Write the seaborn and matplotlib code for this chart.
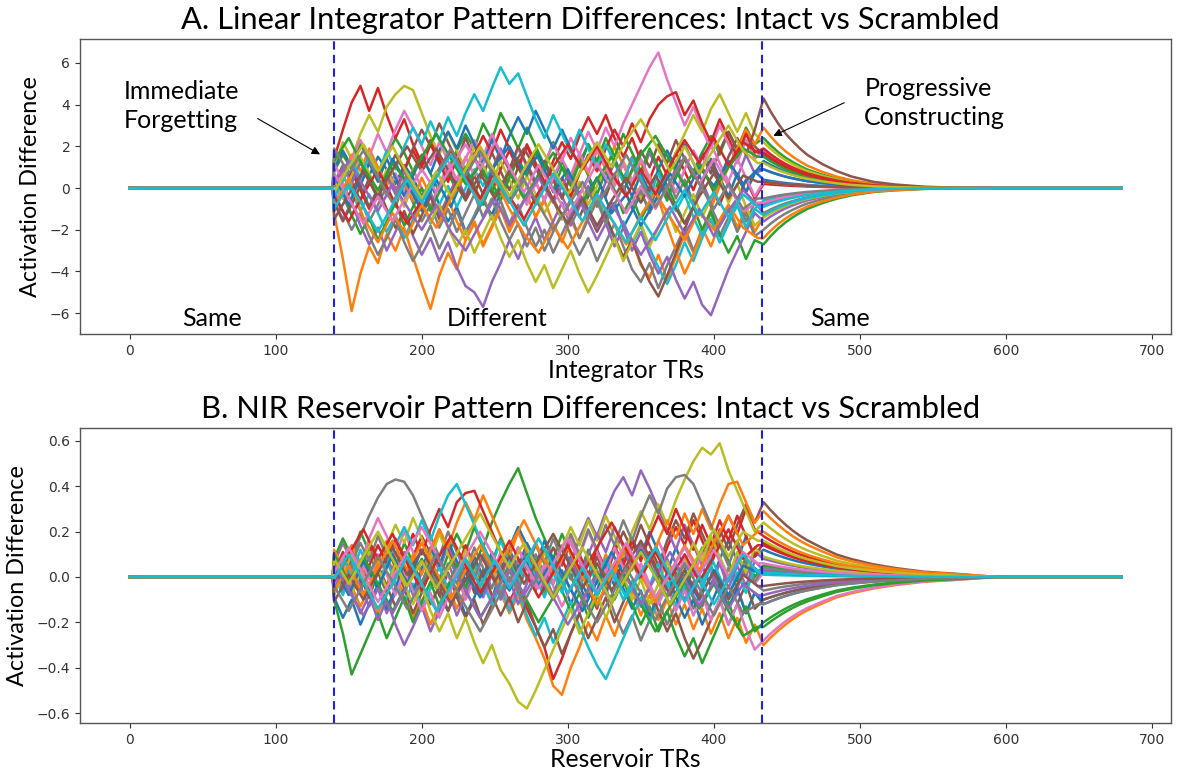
import numpy as np
import pandas as pd
import matplotlib
matplotlib.use("Agg")
import matplotlib.pyplot as plt
import seaborn as sns

# ---------------- data (read/estimated from the reference) ----------------
total_trs = 680                      # TRs 0..679
diff_start, diff_end = 140, 433      # "Different" segment boundaries (dashed lines)
knot_trs = [140 + 6 * k for k in range(50)]     # sampled TRs, densely traced units
knot_trs_2 = [140 + 10 * k for k in range(30)]  # sampled TRs, coarsely traced units
decay_start = 434

# fraction of the last value left after the boundary (read from the fan envelope)
decay_offsets_a = [0, 5, 10, 15, 20, 25, 30, 40, 50, 60, 75, 90, 110, 130, 160]
decay_frac_a = [1, 0.85, 0.72, 0.61, 0.52, 0.44, 0.37, 0.27, 0.19, 0.13, 0.07, 0.04, 0.015, 0.005, 0]
decay_offsets_b = [0, 5, 10, 15, 20, 25, 30, 40, 50, 60, 75, 90, 110, 130, 160]
decay_frac_b = [1, 0.89, 0.79, 0.70, 0.62, 0.55, 0.49, 0.39, 0.30, 0.24, 0.17, 0.12, 0.07, 0.045, 0]

integrator_a = [
    [0.3, -0.5, 0.4, 1.2, 0.6, 1.5, 0.9, 0.2, 1.1, 0.5, -0.4, 0.3, -0.8, -1.6, -0.9, -2.1, -1.4, -0.6, -1.3, -0.2,
     0.7, 0.1, 1.0, 1.8, 1.1, 0.4, 1.3, 0.6, -0.3, 0.5, -0.6, -1.4, -0.7, -1.9, -1.1, -0.3, -1.0, 0.2, -0.5, 0.6,
     1.4, 0.8, 1.7, 1.0, 0.3, 1.2, 0.5, -0.2, 0.7, 1.3],
    [-1.2, -3.4, -5.9, -4.1, -2.8, -3.6, -2.2, -3.0, -1.9, -3.3, -4.6, -5.8, -4.2, -3.1, -3.9, -2.5, -1.6, -2.7, -1.8, -0.9,
     -2.0, -1.1, -0.3, -1.4, -0.6, -1.7, -2.6, -1.5, -2.4, -1.3, -0.4, -1.5, -2.3, -3.4, -2.5, -3.7, -4.3, -3.2, -4.4, -3.3,
     -2.2, -3.1, -1.9, -2.8, -1.7, -0.8, -1.9, -1.0, -2.1, -1.4],
    [0.8, 1.6, 0.9, 2.1, 1.4, 0.6, 1.5, 2.4, 1.7, 0.8, 1.6, 0.7, -0.2, 0.9, 1.8, 2.6, 1.9, 3.1, 2.3, 3.6,
     2.8, 1.9, 2.9, 2.0, 1.1, 2.2, 1.3, 0.4, 1.5, 0.6, -0.3, 0.8, -0.1, -1.2, -0.4, -1.5, -0.7, 0.3, -0.6, 0.5,
     1.4, 0.6, 1.7, 2.5, 1.6, 2.7, 1.8, 2.9, 2.1, 2.4],
    [1.4, 2.8, 4.1, 4.9, 3.7, 4.8, 3.5, 2.4, 3.3, 2.1, 1.2, 2.3, 1.4, 0.5, 1.6, 0.7, -0.3, 0.8, -0.2, 0.9,
     1.8, 0.9, 2.0, 1.1, 0.2, 1.3, 2.2, 1.4, 2.5, 3.4, 2.6, 3.5, 2.4, 1.5, 2.4, 1.3, 0.4, 1.5, 0.6, 1.7,
     0.8, -0.1, 1.0, 0.1, -0.8, 0.3, -0.6, 0.4, -0.5, 0.2],
    [-0.6, -1.5, -0.7, -1.8, -2.7, -1.9, -3.0, -2.1, -1.2, -2.3, -3.2, -2.4, -3.5, -2.6, -3.8, -4.7, -5.0, -5.7, -4.5, -3.6,
     -2.5, -3.4, -2.3, -1.4, -2.5, -1.6, -0.7, -1.8, -0.9, 0.1, -0.8, 0.3, 1.2, 0.4, 1.5, 0.6, 1.7, 0.8, -0.1, 1.0,
     0.1, -0.8, 0.3, -0.7, 0.4, 1.3, 0.5, 1.6, 0.7, 0.9],
    [0.2, 1.1, 0.3, -0.6, 0.5, -0.4, 0.7, 1.6, 0.8, 1.9, 2.8, 2.0, 3.1, 2.2, 1.3, 2.4, 1.5, 0.6, 1.7, 0.8,
     -0.1, 1.0, 0.1, -0.8, 0.3, -0.6, -1.5, -0.5, -1.4, -0.4, 0.5, -0.4, 0.7, -0.2, 0.9, 1.8, 1.0, 2.1, 1.2, 2.3,
     1.4, 0.5, 1.6, 0.7, 1.8, 2.7, 1.9, 2.8, 2.0, 1.6],
    [-0.9, 0.2, -0.7, 0.4, 1.3, 0.5, -0.4, 0.7, -0.2, 0.9, 0.0, -0.9, 0.2, 1.1, 0.3, 1.4, 2.3, 1.5, 2.6, 1.7,
     0.8, 1.9, 1.0, 0.1, 1.2, 2.1, 1.3, 2.4, 1.6, 2.7, 1.8, 2.9, 2.0, 3.1, 4.0, 4.9, 5.8, 6.5, 5.2, 4.1,
     3.0, 3.9, 2.8, 1.9, 3.0, 2.1, 1.2, 2.3, 1.4, 1.8],
    [0.5, -0.4, -1.3, -0.5, -1.6, -0.8, 0.1, -0.9, 0.2, -0.7, -1.6, -0.8, -1.9, -1.0, -2.1, -1.2, -0.3, -1.4, -0.5, -1.6,
     -2.5, -1.7, -2.8, -1.9, -3.0, -2.1, -1.2, -2.3, -3.2, -2.4, -3.5, -2.6, -1.7, -2.8, -3.9, -4.5, -3.6, -4.8, -3.7, -2.8,
     -1.9, -3.0, -2.1, -1.2, -2.3, -1.4, -0.5, -1.6, -0.7, -1.2],
    [1.0, 2.2, 1.4, 2.6, 3.5, 2.7, 3.9, 4.5, 4.9, 4.7, 3.6, 2.5, 1.6, 2.7, 1.8, 0.9, 2.0, 1.1, 0.2, 1.3,
     0.4, -0.5, 0.6, -0.3, -1.2, -0.4, -1.5, -0.6, 0.3, -0.8, 0.1, 1.0, 0.2, 1.3, 0.4, -0.5, 0.6, -0.3, 0.8, 1.7,
     2.6, 3.5, 2.7, 3.8, 4.5, 3.6, 2.7, 3.6, 2.6, 2.2],
    [-0.3, 0.6, -0.2, -1.1, -0.3, -1.2, -2.1, -1.3, -2.4, -1.5, -0.6, -1.7, -0.8, 0.1, -0.9, 0.0, 0.9, 0.1, 1.0, 0.2,
     -0.7, 0.3, -0.6, 0.4, 1.3, 0.5, -0.4, 0.6, -0.3, -1.2, -0.4, -1.5, -2.4, -1.6, -2.7, -1.8, -2.9, -3.8, -4.6, -3.7,
     -2.6, -3.5, -2.4, -1.5, -2.6, -1.7, -0.8, -1.9, -1.0, -0.6],
    [0.9, 1.8, 1.0, 0.1, 1.2, 0.3, 1.4, 0.5, -0.4, 0.6, 1.5, 0.7, 1.8, 2.7, 1.9, 3.0, 2.1, 1.2, 2.3, 1.4,
     2.5, 3.4, 2.6, 3.7, 2.8, 1.9, 2.8, 1.9, 1.0, 2.1, 1.2, 0.3, 1.4, 0.5, -0.4, 0.7, -0.2, 0.9, 1.8, 1.0,
     2.1, 1.2, 0.3, 1.4, 0.5, -0.4, 0.7, -0.2, 0.8, 0.4],
    [-0.4, 0.7, 1.6, 0.8, 1.9, 1.0, 0.1, 1.2, 0.3, -0.6, 0.5, -0.4, -1.3, -0.5, -1.6, -2.5, -1.7, -2.8, -1.9, -1.0,
     -2.1, -1.2, -0.3, -1.4, -0.5, 0.4, -0.5, 0.6, 1.5, 0.7, 1.8, 0.9, 2.0, 1.1, 0.2, 1.3, 0.4, -0.5, -1.8, -3.0,
     -4.1, -3.2, -2.1, -1.0, 0.1, 1.0, 1.9, 2.8, 2.1, 2.9],
    [-1.1, -0.2, -1.3, -2.2, -1.4, -2.5, -1.6, -0.7, -1.8, -0.9, 0.0, -1.1, -0.2, 0.7, -0.1, 1.0, 0.1, -0.8, 0.3, -0.6,
     0.5, 1.4, 0.6, 1.7, 0.8, -0.1, 1.0, 0.1, 1.2, 2.1, 1.3, 2.4, 1.5, 2.6, 1.7, 0.8, 1.9, 1.0, 0.1, -0.8,
     -1.7, -0.9, -2.0, -1.1, -2.2, -3.1, -2.3, -3.4, -2.5, -2.7],
    [0.6, -0.3, 0.8, -0.1, -1.0, -0.2, 0.7, -0.2, 0.9, 1.8, 1.0, 2.1, 1.2, 0.3, 1.4, 0.5, 1.6, 2.5, 1.7, 2.8,
     1.9, 1.0, 2.1, 1.2, 0.3, -0.6, 0.5, -0.4, 0.7, 1.6, 0.8, 1.9, 2.8, 2.0, 3.1, 2.2, 3.3, 4.0, 4.4, 4.6,
     3.5, 4.2, 3.1, 2.2, 3.3, 2.4, 1.5, 2.6, 1.7, 1.9],
    [0.1, 1.0, 0.2, 1.3, 0.4, -0.5, 0.6, -0.3, 0.8, -0.1, -1.0, -0.2, -1.3, -0.4, 0.5, -0.4, 0.7, 1.6, 0.8, 1.9,
     1.0, 0.1, 1.2, 0.3, -0.6, 0.5, -0.4, -1.3, -0.5, -1.6, -2.5, -1.7, -2.8, -1.9, -3.0, -2.1, -3.2, -4.1, -3.3, -4.4,
     -5.3, -4.5, -5.6, -6.1, -5.0, -3.9, -3.0, -2.1, -1.2, -1.6],
    [-0.7, -1.6, -0.8, 0.1, -0.9, 0.0, -1.0, -1.9, -1.1, -2.2, -1.3, -0.4, -1.5, -0.6, 0.3, -0.5, 0.6, -0.3, 0.8, 1.7,
     0.9, 2.0, 1.1, 0.2, 1.3, 0.4, -0.5, 0.6, -0.3, -1.2, -2.1, -1.3, -2.4, -3.3, -2.5, -3.6, -4.5, -5.2, -4.2, -3.1,
     -2.0, -0.9, 0.2, 1.3, 0.4, 1.5, 2.4, 1.6, 2.8, 4.3],
    [1.2, 0.3, 1.4, 2.3, 1.5, 2.6, 1.7, 2.8, 3.7, 2.9, 2.0, 1.1, 2.2, 1.3, 0.4, 1.5, 0.6, 1.7, 0.8, -0.1,
     1.0, 0.1, -0.8, 0.3, -0.6, 0.5, 1.4, 0.6, 1.7, 0.8, 1.9, 1.0, 0.1, 1.2, 0.3, 1.4, 0.5, -0.4, 0.7, -0.2,
     0.9, 1.8, 1.0, 2.1, 1.2, 0.3, 1.4, 0.5, -0.4, 0.3],
    [-0.2, -1.1, -2.0, -1.2, -2.3, -3.2, -2.4, -1.5, -2.6, -3.5, -2.7, -1.8, -2.9, -2.0, -1.1, -2.2, -1.3, -0.4, -1.5, -0.6,
     -1.7, -0.8, -1.9, -2.8, -2.0, -3.1, -2.2, -1.3, -2.4, -1.5, -0.6, -1.7, -0.8, 0.1, -1.0, -0.1, -1.2, -0.3, 0.6, -0.5,
     0.4, -0.7, 0.2, -0.9, -1.8, -1.0, -2.1, -1.2, -2.3, -2.0],
    [0.4, -0.5, 0.6, 1.5, 0.7, -0.2, 0.9, 0.0, -0.9, 0.2, -0.7, -1.6, -0.8, -1.9, -2.8, -2.0, -3.1, -2.2, -1.3, -2.4,
     -3.3, -2.5, -3.6, -4.5, -3.7, -4.8, -3.9, -3.0, -4.1, -5.0, -4.2, -3.3, -2.4, -3.5, -2.6, -1.7, -2.8, -1.9, -1.0, -2.1,
     -1.2, -0.3, -1.4, -0.5, 0.4, -0.7, 0.2, -0.9, -1.8, -1.4],
    [-0.5, 0.4, 1.3, 0.5, 1.6, 0.7, 1.8, 0.9, 2.0, 2.9, 2.1, 3.2, 2.3, 3.4, 2.5, 3.6, 4.5, 3.7, 4.8, 5.8,
     5.0, 5.5, 4.4, 3.3, 2.4, 3.5, 2.6, 1.7, 2.8, 1.9, 1.0, 2.1, 1.2, 0.3, 1.4, 0.5, -0.4, 0.7, -0.2, -1.1,
     -0.3, -1.4, -2.3, -1.5, -2.6, -1.7, -0.8, -1.9, -1.0, -1.3],
]

integrator_a_coarse = [
    [0.6, -0.8, 0.9, -0.5, 1.4, 0.2, -1.1, 0.4, -0.9, 0.8, -0.6, 1.1, 2.0, 0.7, 1.6, -0.2, 0.9, -0.7, 0.5, -1.2,
     -0.3, -1.8, -0.6, 0.7, -0.4, 1.0, 0.1, 1.3, 0.2, 0.9],
    [-0.9, 0.5, -1.4, -2.6, -1.2, -2.3, -0.8, -1.9, -0.5, 0.6, -0.7, 0.4, -1.0, -2.2, -3.1, -1.8, -2.9, -1.6, -0.4, -1.5,
     -2.7, -1.3, -0.2, -1.4, -2.5, -1.1, -2.0, -0.8, -1.9, -2.4],
    [1.3, 2.4, 1.0, -0.1, 1.2, 0.3, 1.5, 2.6, 1.4, 0.2, 1.1, -0.3, 0.8, -0.5, 0.6, 1.7, 0.5, -0.7, 0.4, 1.5,
     0.3, 1.6, 2.5, 1.3, 0.1, 1.2, -0.1, 1.0, 1.9, 1.5],
    [-0.4, -1.6, -0.3, 0.9, -0.5, -1.7, -0.6, 0.7, 1.8, 0.6, -0.5, 0.8, -0.4, -1.5, -0.2, 1.0, 2.1, 0.9, 2.0, 0.7,
     -0.4, 0.9, -0.3, 1.1, 2.3, 1.2, 2.4, 1.1, 2.2, 1.7],
    [0.2, 1.3, 0.1, -1.1, 0.2, -0.9, -2.0, -0.8, -2.1, -3.0, -1.7, -0.5, -1.8, -0.6, 0.5, -0.7, 0.6, -0.6, -1.9, -0.7,
     -2.0, -3.2, -2.1, -0.9, -2.2, -1.0, -2.3, -1.1, -0.1, -0.8],
    [-1.5, -0.3, 0.8, -0.4, 0.9, 2.0, 0.8, 1.9, 0.6, -0.6, 0.7, -0.5, 0.8, 1.9, 0.7, -0.6, -1.7, -0.5, -1.8, -0.6,
     0.5, -0.7, 0.6, -0.5, -1.7, -0.4, 0.7, -0.5, 0.6, 0.3],
    [0.7, -0.5, -1.7, -0.4, -1.6, -0.3, 0.9, -0.2, 1.0, 2.1, 0.9, 2.2, 1.0, -0.2, 1.1, -0.1, -1.3, -0.1, 1.2, 0.0,
     -1.2, 0.1, -1.0, 0.3, 1.5, 0.2, 1.4, 0.1, -1.1, -0.7],
    [1.9, 0.7, 1.8, 0.5, -0.7, 0.6, -0.6, 0.7, 1.9, 0.6, 1.8, 0.5, -0.7, 0.4, -0.8, -2.0, -0.9, 0.3, -0.9, 0.4,
     1.6, 0.3, -0.9, 0.3, 1.5, 0.2, -1.0, 0.2, -1.0, -0.5],
    [-0.2, 1.0, 2.1, 0.8, 2.0, 0.7, -0.5, 0.8, -0.4, 0.9, 2.0, 0.8, -0.4, 0.9, 2.1, 0.9, -0.3, 1.0, 2.2, 1.0,
     2.3, 3.3, 2.1, 0.8, 2.0, 0.7, 1.9, 3.0, 1.8, 1.2],
    [-1.0, 0.2, -0.9, -2.1, -0.8, 0.4, -0.7, 0.5, 1.6, 0.4, -0.8, 0.5, -0.6, -1.8, -0.5, 0.7, -0.4, -1.6, -0.3, -1.5,
     -2.6, -1.4, -2.5, -1.2, -0.1, -1.3, -0.2, -1.4, -0.3, -0.9],
]

reservoir_b = [
    [0.05, -0.06, 0.08, -0.03, 0.10, 0.02, 0.14, 0.06, -0.04, 0.07, -0.05, 0.04, -0.08, -0.15, -0.06, -0.17, -0.09, 0.01, -0.10, 0.03,
     0.12, 0.04, 0.15, 0.07, -0.02, 0.09, -0.01, -0.12, -0.03, -0.14, -0.06, 0.05, -0.04, 0.08, 0.17, 0.09, 0.20, 0.11, 0.02, 0.13,
     0.04, -0.07, 0.05, -0.04, 0.08, 0.16, 0.07, 0.18, 0.09, 0.12],
    [-0.02, 0.07, -0.04, -0.13, -0.05, -0.16, -0.08, 0.02, -0.09, -0.18, -0.10, -0.21, -0.12, -0.03, -0.14, -0.05, 0.05, -0.06, 0.04, -0.07,
     -0.16, -0.08, -0.19, -0.27, -0.36, -0.48, -0.52, -0.40, -0.31, -0.20, -0.28, -0.17, -0.26, -0.15, -0.06, -0.17, -0.08, -0.19, -0.10, -0.21,
     -0.12, -0.23, -0.14, -0.25, -0.16, -0.27, -0.18, -0.29, -0.21, -0.30],
    [0.08, 0.17, 0.09, 0.20, 0.11, 0.02, 0.13, 0.04, 0.15, 0.06, -0.03, 0.08, -0.01, 0.10, 0.19, 0.11, 0.22, 0.13, 0.24, 0.33,
     0.41, 0.48, 0.37, 0.26, 0.17, 0.08, 0.19, 0.10, 0.01, 0.12, 0.03, -0.06, 0.05, -0.04, 0.07, -0.02, 0.09, 0.00, -0.09, 0.02,
     -0.07, 0.04, 0.13, 0.05, 0.16, 0.07, -0.02, 0.09, 0.00, 0.05],
    [-0.07, 0.02, 0.11, 0.03, 0.14, 0.05, -0.04, 0.07, -0.02, 0.09, 0.18, 0.10, 0.21, 0.12, 0.03, 0.14, 0.05, -0.04, 0.07, -0.02,
     -0.11, -0.03, -0.14, -0.22, -0.31, -0.45, -0.36, -0.25, -0.16, -0.05, -0.14, -0.03, 0.06, -0.02, 0.09, 0.00, 0.11, 0.02, 0.13, 0.22,
     0.14, 0.25, 0.16, 0.07, 0.18, 0.27, 0.19, 0.30, 0.21, 0.18],
    [0.03, -0.06, 0.05, -0.04, -0.13, -0.05, -0.16, -0.07, 0.03, -0.08, 0.02, 0.11, 0.03, 0.14, 0.05, -0.04, 0.07, -0.02, 0.09, 0.00,
     0.10, 0.01, 0.12, 0.03, -0.06, 0.05, 0.14, 0.06, 0.17, 0.26, 0.18, 0.29, 0.38, 0.44, 0.36, 0.47, 0.39, 0.30, 0.21, 0.12,
     0.23, 0.14, 0.05, 0.16, 0.07, -0.02, 0.09, 0.00, 0.11, 0.08],
    [0.10, 0.01, -0.08, 0.03, -0.06, 0.05, -0.04, -0.13, -0.05, -0.16, -0.07, 0.03, -0.08, 0.02, -0.09, -0.18, -0.10, -0.21, -0.12, -0.03,
     -0.14, -0.05, 0.05, -0.06, 0.04, 0.13, 0.05, 0.16, 0.07, -0.02, 0.09, 0.00, 0.11, 0.20, 0.12, 0.23, 0.14, 0.05, 0.16, 0.25,
     0.17, 0.28, 0.19, 0.10, 0.21, 0.12, 0.23, 0.32, 0.24, 0.33],
    [-0.04, 0.05, 0.14, 0.06, 0.17, 0.26, 0.18, 0.09, 0.20, 0.11, 0.02, 0.13, 0.04, -0.05, 0.06, -0.03, 0.08, -0.01, -0.10, -0.02,
     -0.13, -0.04, 0.06, -0.05, 0.05, -0.04, -0.13, -0.05, -0.16, -0.07, 0.03, -0.08, 0.02, 0.11, 0.03, 0.14, 0.05, 0.16, 0.07, -0.02,
     0.09, 0.00, 0.11, 0.02, -0.07, 0.04, -0.05, 0.06, -0.03, 0.02],
    [0.06, 0.15, 0.07, 0.18, 0.27, 0.35, 0.41, 0.43, 0.42, 0.36, 0.27, 0.18, 0.09, 0.20, 0.11, 0.02, 0.13, 0.04, -0.05, 0.06,
     -0.03, 0.08, -0.01, 0.10, 0.01, -0.08, 0.03, -0.06, 0.05, -0.04, -0.13, -0.05, -0.16, -0.25, -0.17, -0.28, -0.19, -0.10, -0.21, -0.12,
     -0.03, -0.14, -0.05, 0.05, -0.06, 0.04, -0.05, 0.06, -0.03, -0.06],
    [-0.06, 0.03, -0.08, 0.02, 0.11, 0.03, 0.14, 0.23, 0.15, 0.26, 0.17, 0.08, 0.19, 0.10, 0.01, 0.12, 0.03, -0.06, 0.05, -0.04,
     0.07, -0.02, 0.09, 0.00, 0.11, 0.02, 0.13, 0.22, 0.14, 0.25, 0.16, 0.27, 0.18, 0.09, 0.20, 0.29, 0.21, 0.32, 0.23, 0.34,
     0.43, 0.51, 0.57, 0.54, 0.59, 0.47, 0.38, 0.29, 0.20, 0.24],
    [0.01, -0.08, 0.03, -0.06, 0.05, -0.04, 0.07, -0.02, -0.11, -0.03, -0.14, -0.05, 0.05, -0.06, 0.04, -0.05, 0.06, -0.03, -0.12, -0.04,
     -0.15, -0.06, -0.17, -0.26, -0.18, -0.29, -0.20, -0.11, -0.22, -0.31, -0.39, -0.45, -0.36, -0.27, -0.18, -0.09, -0.20, -0.11, -0.02, -0.13,
     -0.04, 0.06, -0.05, 0.05, -0.04, -0.13, -0.05, -0.16, -0.07, -0.10],
    [-0.09, -0.18, -0.10, -0.21, -0.12, -0.03, -0.14, -0.05, 0.05, -0.06, 0.04, 0.13, 0.05, 0.16, 0.07, -0.02, 0.09, 0.00, 0.11, 0.02,
     0.13, 0.22, 0.14, 0.05, 0.16, 0.07, -0.02, 0.09, 0.00, -0.09, 0.02, -0.07, 0.04, -0.05, -0.14, -0.06, -0.17, -0.08, 0.02, -0.09,
     -0.18, -0.10, -0.21, -0.12, -0.03, -0.14, -0.05, -0.16, -0.07, -0.12],
    [0.12, 0.03, 0.14, 0.05, -0.04, 0.07, 0.16, 0.08, -0.01, 0.10, 0.01, 0.12, 0.21, 0.13, 0.24, 0.33, 0.25, 0.36, 0.27, 0.18,
     0.09, 0.20, 0.11, 0.02, 0.13, 0.04, -0.05, 0.06, -0.03, 0.08, -0.01, 0.10, 0.01, 0.12, 0.03, 0.14, 0.05, 0.16, 0.25, 0.17,
     0.28, 0.19, 0.30, 0.21, 0.32, 0.41, 0.42, 0.33, 0.24, 0.29],
    [-0.10, -0.25, -0.43, -0.34, -0.25, -0.16, -0.27, -0.18, -0.09, -0.20, -0.11, -0.02, -0.13, -0.04, 0.06, -0.05, 0.05, 0.14, 0.06, 0.17,
     0.08, -0.01, 0.10, 0.01, -0.08, 0.03, -0.06, -0.15, -0.07, -0.18, -0.09, 0.01, -0.10, -0.01, -0.12, -0.21, -0.13, -0.24, -0.15, -0.26,
     -0.35, -0.27, -0.38, -0.29, -0.20, -0.11, -0.22, -0.13, -0.24, -0.20],
    [0.02, 0.11, 0.03, -0.06, 0.05, 0.14, 0.06, 0.17, 0.08, 0.19, 0.10, 0.21, 0.30, 0.22, 0.33, 0.37, 0.38, 0.29, 0.20, 0.11,
     0.02, 0.13, 0.04, 0.15, 0.06, -0.03, 0.08, -0.01, 0.10, 0.01, 0.12, 0.03, 0.14, 0.05, 0.16, 0.07, 0.18, 0.27, 0.19, 0.30,
     0.21, 0.12, 0.23, 0.14, 0.25, 0.16, 0.27, 0.18, 0.09, 0.15],
    [-0.05, 0.04, -0.07, -0.16, -0.08, -0.19, -0.10, -0.21, -0.30, -0.22, -0.13, -0.24, -0.15, -0.06, -0.17, -0.08, 0.02, -0.09, 0.01, -0.10,
     -0.01, -0.12, -0.03, 0.07, -0.04, 0.06, -0.03, 0.08, -0.01, 0.10, 0.19, 0.11, 0.22, 0.13, 0.04, 0.15, 0.06, -0.03, 0.08, -0.01,
     -0.10, -0.02, -0.13, -0.04, 0.06, -0.05, 0.05, -0.04, 0.07, 0.03],
    [0.07, -0.02, 0.09, 0.00, -0.09, 0.02, -0.07, 0.04, -0.05, 0.06, -0.03, -0.12, -0.04, -0.15, -0.06, 0.04, -0.07, 0.03, -0.08, -0.17,
     -0.09, -0.20, -0.11, -0.22, -0.31, -0.23, -0.34, -0.25, -0.16, -0.27, -0.18, -0.09, -0.20, -0.11, -0.02, -0.13, -0.04, -0.15, -0.24, -0.16,
     -0.27, -0.36, -0.28, -0.19, -0.10, -0.21, -0.12, -0.03, -0.14, -0.10],
    [-0.03, 0.06, -0.03, 0.08, -0.01, 0.10, 0.01, -0.08, 0.03, -0.06, -0.15, -0.07, -0.18, -0.09, 0.01, -0.10, -0.01, 0.09, 0.00, 0.11,
     0.02, 0.13, 0.04, -0.05, 0.06, -0.03, 0.08, 0.17, 0.09, 0.20, 0.11, 0.02, 0.13, 0.04, -0.05, 0.06, -0.03, -0.12, -0.04, -0.15,
     -0.06, -0.17, -0.08, -0.19, -0.10, -0.21, -0.12, -0.23, -0.32, -0.28],
    [0.04, -0.05, 0.06, 0.15, 0.07, 0.18, 0.09, 0.00, 0.11, 0.02, -0.07, 0.04, -0.05, 0.06, -0.03, 0.08, -0.01, 0.10, 0.01, -0.08,
     0.03, -0.06, 0.05, 0.14, 0.06, 0.17, 0.08, 0.19, 0.10, 0.21, 0.12, 0.23, 0.14, 0.25, 0.16, 0.27, 0.36, 0.28, 0.39, 0.44,
     0.45, 0.41, 0.32, 0.23, 0.14, 0.05, 0.16, 0.07, -0.02, 0.04],
    [-0.08, 0.01, 0.10, 0.02, -0.07, 0.04, -0.05, 0.06, -0.03, -0.12, -0.04, -0.15, -0.24, -0.16, -0.27, -0.18, -0.29, -0.38, -0.30, -0.41,
     -0.47, -0.55, -0.58, -0.50, -0.41, -0.32, -0.23, -0.14, -0.25, -0.16, -0.07, -0.18, -0.09, 0.01, -0.10, -0.01, -0.12, -0.03, 0.07, -0.04,
     0.06, 0.15, 0.07, 0.18, 0.09, 0.00, 0.11, 0.02, 0.13, 0.09],
    [0.00, 0.09, 0.01, 0.12, 0.03, -0.06, 0.05, 0.14, 0.22, 0.14, 0.25, 0.16, 0.27, 0.36, 0.41, 0.32, 0.23, 0.14, 0.05, 0.16,
     0.07, -0.02, 0.09, 0.00, -0.09, 0.02, -0.07, 0.04, -0.05, 0.06, -0.03, 0.08, -0.01, -0.10, -0.02, -0.13, -0.04, 0.06, -0.05, 0.05,
     -0.04, 0.07, -0.02, 0.09, 0.00, -0.09, 0.02, -0.07, 0.04, 0.01],
]

reservoir_b_coarse = [
    [0.04, -0.08, 0.07, -0.05, 0.10, -0.03, 0.12, 0.01, -0.11, 0.02, -0.09, 0.05, -0.06, 0.08, -0.04, 0.09, -0.03, -0.15, -0.02, 0.11,
     -0.01, 0.12, 0.00, -0.12, 0.01, -0.10, 0.03, -0.08, 0.05, 0.02],
    [-0.06, 0.05, -0.08, 0.04, 0.16, 0.03, 0.15, 0.02, -0.10, 0.03, 0.14, 0.02, 0.13, 0.25, 0.12, 0.01, 0.13, 0.00, -0.12, 0.01,
     0.13, 0.01, -0.11, 0.02, 0.14, 0.03, 0.15, 0.27, 0.14, 0.20],
    [0.10, -0.02, 0.09, -0.03, -0.15, -0.04, 0.08, -0.05, 0.07, -0.06, -0.18, -0.07, 0.05, -0.08, -0.20, -0.09, 0.03, -0.10, 0.02, -0.11,
     0.01, -0.12, -0.24, -0.13, -0.02, -0.14, -0.03, -0.15, -0.26, -0.22],
    [-0.02, 0.10, 0.21, 0.08, 0.19, 0.06, -0.06, 0.07, 0.18, 0.05, -0.07, 0.04, 0.16, 0.03, -0.09, 0.02, 0.14, 0.01, 0.13, 0.24,
     0.12, 0.00, 0.11, -0.01, 0.10, -0.02, 0.09, 0.21, 0.08, 0.14],
    [0.06, -0.06, -0.17, -0.05, -0.16, -0.04, 0.07, -0.05, 0.06, -0.06, -0.18, -0.07, 0.04, -0.08, 0.03, -0.09, -0.21, -0.10, 0.01, -0.11,
     0.00, -0.12, 0.00, 0.11, -0.01, -0.13, -0.02, -0.14, -0.03, -0.08],
    [-0.11, 0.01, -0.10, 0.02, 0.13, 0.01, 0.12, 0.00, -0.12, -0.01, 0.10, -0.02, 0.09, -0.03, 0.08, 0.19, 0.07, -0.05, 0.06, -0.06,
     0.05, 0.16, 0.04, -0.08, 0.03, -0.09, 0.02, -0.10, 0.01, -0.04],
    [0.02, 0.13, 0.01, -0.11, 0.00, 0.11, 0.22, 0.10, -0.02, 0.09, 0.20, 0.08, -0.04, 0.07, -0.05, 0.06, 0.17, 0.05, -0.07, 0.04,
     0.15, 0.03, -0.09, 0.02, 0.13, 0.01, 0.12, 0.00, 0.11, 0.06],
    [-0.04, -0.15, -0.03, 0.09, -0.02, -0.14, -0.02, 0.10, -0.01, -0.13, -0.24, -0.12, 0.00, -0.11, 0.01, -0.10, 0.02, -0.09, -0.20, -0.08,
     0.04, -0.07, -0.19, -0.06, 0.06, -0.05, -0.17, -0.04, -0.16, -0.12],
    [0.08, -0.03, 0.09, 0.20, 0.08, -0.04, 0.07, -0.05, 0.06, 0.17, 0.28, 0.16, 0.04, 0.15, 0.03, -0.09, 0.02, 0.13, 0.01, -0.11,
     0.00, 0.11, 0.00, -0.12, -0.01, 0.10, 0.21, 0.09, 0.20, 0.16],
    [-0.01, 0.10, -0.02, -0.14, -0.03, 0.09, -0.03, -0.15, -0.04, 0.08, -0.04, 0.07, -0.05, 0.06, 0.17, 0.05, -0.07, 0.04, -0.08, 0.03,
     -0.09, 0.02, 0.13, 0.01, -0.11, 0.00, -0.12, -0.01, 0.10, 0.02],
]

title_a = "A. Linear Integrator Pattern Differences: Intact vs Scrambled"
title_b = "B. NIR Reservoir Pattern Differences: Intact vs Scrambled"
xlabel_a = "Integrator TRs"
xlabel_b = "Reservoir TRs"
ylabel = "Activation Difference"
phase_labels = ["Same", "Different", "Same"]

palette = sns.color_palette("tab10", 10)


def long_frame(groups, offsets, fracs):
    rows = []
    unit = 0
    for knots, series_list in groups:
        for vals in series_list:
            if len(vals) != len(knots):
                raise ValueError(f"unit {unit} has {len(vals)} values, expected {len(knots)}")
            dx = [decay_start + o for o in offsets]
            keep = [i for i, x in enumerate(dx) if x > knots[-1]]
            xs = [0, diff_start - 1] + list(knots) + [dx[i] for i in keep] + [total_trs - 1]
            ys = [0.0, 0.0] + list(vals) + [vals[-1] * fracs[i] for i in keep] + [0.0]
            for x, y in zip(xs, ys):
                rows.append((unit, x, y))
            unit += 1
    return pd.DataFrame(rows, columns=["unit", "TR", "diff"])


df_a = long_frame([(knot_trs, integrator_a), (knot_trs_2, integrator_a_coarse)],
                  decay_offsets_a, decay_frac_a)
df_b = long_frame([(knot_trs, reservoir_b), (knot_trs_2, reservoir_b_coarse)],
                  decay_offsets_b, decay_frac_b)

LABEL_FONT = ["Lato", "DejaVu Sans"]

fig = plt.figure(figsize=(11.8, 7.72), dpi=100)
W, H = 1180, 772
ax1 = fig.add_axes([80 / W, 1 - 334 / H, 1091 / W, 295 / H])
ax2 = fig.add_axes([80 / W, 1 - 723 / H, 1091 / W, 295 / H])

for ax, df in ((ax1, df_a), (ax2, df_b)):
    n = df["unit"].nunique()
    sns.lineplot(data=df, x="TR", y="diff", hue="unit", units="unit", estimator=None,
                 palette=[palette[i % 10] for i in range(n)], legend=False, lw=1.8, ax=ax,
                 sort=False)
    ax.axvline(diff_start, color="#2020e0", ls="--", lw=1.5, dashes=(4, 2.5))
    ax.axvline(diff_end, color="#2020e0", ls="--", lw=1.5, dashes=(4, 2.5))
    ax.set_xlim(-34, 713)
    ax.set_xticks([0, 100, 200, 300, 400, 500, 600, 700])
    ax.tick_params(labelsize=10, colors="#333333", length=3.5)
    for sp in ax.spines.values():
        sp.set_color("#555555")
        sp.set_linewidth(1.0)
    ax.set_ylabel(ylabel, family=LABEL_FONT, fontsize=16.8, labelpad=6)

ax1.set_ylim(-7.0, 7.15)
ax1.set_yticks([-6, -4, -2, 0, 2, 4, 6])
ax2.set_ylim(-0.644, 0.657)
ax2.set_yticks([-0.6, -0.4, -0.2, 0.0, 0.2, 0.4, 0.6])

ax1.set_title(title_a, family=LABEL_FONT, fontsize=22.2, pad=7, x=0.468)
ax2.set_title(title_b, family=LABEL_FONT, fontsize=22.2, pad=7, x=0.468)
ax1.set_xlabel(xlabel_a, family=LABEL_FONT, fontsize=17.8, labelpad=1)
ax2.set_xlabel(xlabel_b, family=LABEL_FONT, fontsize=17.8, labelpad=1)

# phase labels
for txt, xpos in zip(phase_labels, [36, 217, 466]):
    ax1.text(xpos, -6.62, txt, family=LABEL_FONT, fontsize=18, ha="left", va="baseline")

ax1.text(-4, 5.2, "Immediate\nForgetting", family=LABEL_FONT, fontsize=18,
         ha="left", va="top", linespacing=1.35)
ax1.annotate("", xy=(132, 1.55), xytext=(86, 3.4),
             arrowprops=dict(arrowstyle="-|>", color="black", lw=0.8, mutation_scale=12))
ax1.text(503, 5.35, "Progressive\nConstructing", family=LABEL_FONT, fontsize=18,
         ha="left", va="top", linespacing=1.35)
ax1.annotate("", xy=(439, 2.45), xytext=(491, 4.15),
             arrowprops=dict(arrowstyle="-|>", color="black", lw=0.8, mutation_scale=12))

fig.savefig("out.png", dpi=100)
